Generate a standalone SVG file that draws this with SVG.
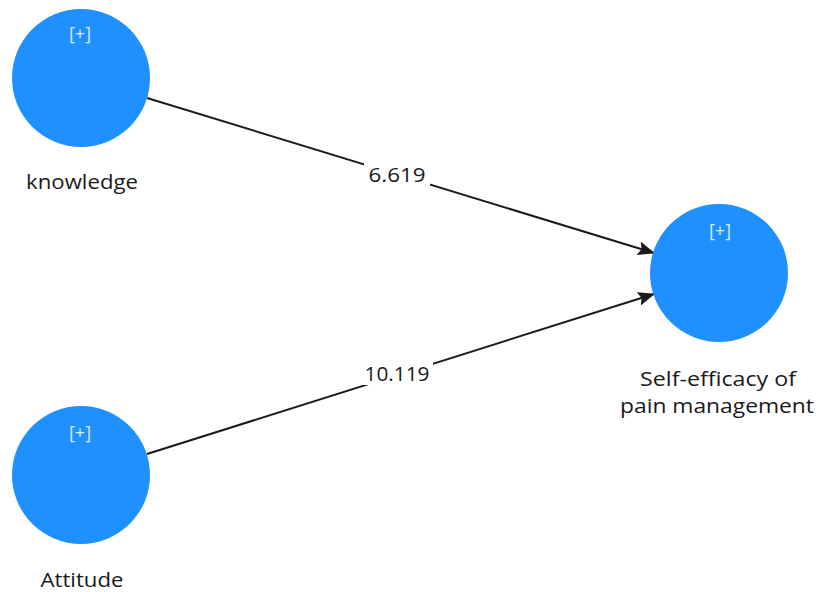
<svg xmlns="http://www.w3.org/2000/svg" width="818" height="592" viewBox="0 0 818 592">
<style>
.node{fill:#1E90FF;}
.plus{font-family:"Open Sans","DejaVu Sans",sans-serif;font-size:18px;fill:#dce9f7;text-anchor:middle;}
.lbl{font-family:"Open Sans","DejaVu Sans",sans-serif;font-size:20px;fill:#1a1a1a;text-anchor:middle;}
.edge{stroke:#1a1a1a;stroke-width:2;fill:none;marker-end:url(#arr);}
.elbl{font-family:"Open Sans","DejaVu Sans",sans-serif;font-size:20px;fill:#1a1a1a;text-anchor:middle;}
</style>
<defs>
<marker id="arr" markerWidth="17" markerHeight="14" refX="16" refY="7" orient="auto" markerUnits="userSpaceOnUse">
<path d="M0,0 L17,7 L0,14 L3,7 Z" fill="#1a1a1a"/>
</marker>
</defs>
<rect width="818" height="592" fill="#ffffff"/>
<g id="connectors">
<line class="edge" x1="147" y1="98" x2="654" y2="253"/>
<line class="edge" x1="147" y1="454" x2="654" y2="294"/>
<rect x="364" y="163" width="66" height="24" fill="#ffffff"/>
<text class="elbl" x="397" y="182" textLength="57" lengthAdjust="spacingAndGlyphs">6.619</text>
<rect x="361" y="360" width="72" height="25" fill="#ffffff"/>
<text class="elbl" x="397" y="381" textLength="65" lengthAdjust="spacingAndGlyphs">10.119</text>
</g>
<g id="knowledge">
<circle class="node" cx="81" cy="78" r="69"/>
<text class="plus" x="80" y="40">[+]</text>
<text class="lbl" x="82" y="189" textLength="112" lengthAdjust="spacingAndGlyphs">knowledge</text>
</g>
<g id="attitude">
<circle class="node" cx="81" cy="475" r="69"/>
<text class="plus" x="80" y="439">[+]</text>
<text class="lbl" x="82" y="587" textLength="83" lengthAdjust="spacingAndGlyphs">Attitude</text>
</g>
<g id="self-efficacy">
<circle class="node" cx="719" cy="273" r="69"/>
<text class="plus" x="720" y="237">[+]</text>
<text class="lbl" x="718" y="386" textLength="156" lengthAdjust="spacingAndGlyphs">Self-efficacy of</text>
<text class="lbl" x="717" y="413" textLength="194" lengthAdjust="spacingAndGlyphs">pain management</text>
</g>
</svg>
